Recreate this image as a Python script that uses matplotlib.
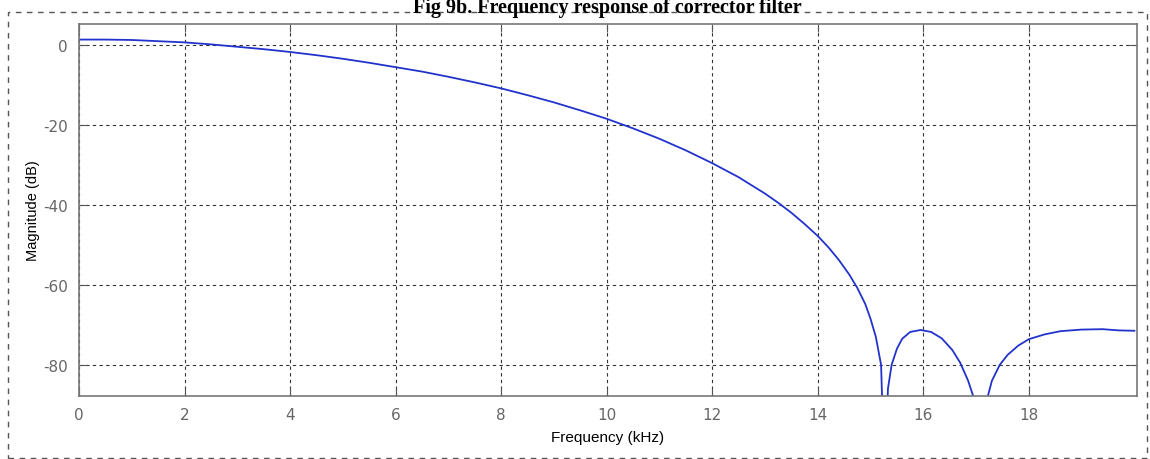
import numpy as np
import matplotlib.pyplot as plt
from matplotlib.patches import Rectangle

plt.rcParams['axes.unicode_minus'] = False

# frecuencia (kHz) y magnitud (dB)
freq_khz = [0.0, 0.5, 1.0, 1.5, 2.0, 2.5, 3.0, 3.5, 4.0, 4.5, 5.0, 5.5, 6.0,
            6.5, 7.0, 7.5, 8.0, 8.5, 9.0, 9.5, 10.0, 10.5, 11.0, 11.5, 12.0,
            12.5, 13.0, 13.25, 13.5, 13.75, 14.0, 14.2, 14.4, 14.6, 14.75, 14.9,
            15.0, 15.1, 15.2, 15.27,
            15.33, 15.4, 15.5, 15.6, 15.75, 15.95, 16.15, 16.35, 16.55, 16.7,
            16.85, 16.95, 17.08, 17.22, 17.3, 17.45, 17.6, 17.8, 18.0, 18.3,
            18.6, 19.0, 19.4, 19.7, 20.0]
mag_db = [1.3, 1.3, 1.2, 0.9, 0.6, 0.1, -0.5, -1.1, -1.8, -2.6, -3.5, -4.5, -5.6,
          -6.7, -8.0, -9.4, -10.9, -12.6, -14.4, -16.4, -18.5, -20.9, -23.5, -26.4, -29.6,
          -33.1, -37.2, -39.5, -42.0, -44.8, -47.8, -50.6, -53.8, -57.5, -60.8, -64.8,
          -68.5, -73.0, -80.0, -110.0,
          -86.0, -80.0, -76.0, -73.5, -71.8, -71.3, -71.8, -73.4, -76.3, -79.5,
          -84.0, -88.0, -110.0, -88.0, -84.0, -80.0, -77.5, -75.2, -73.6, -72.4,
          -71.6, -71.2, -71.1, -71.4, -71.5]

x_ticks = [0, 2, 4, 6, 8, 10, 12, 14, 16, 18]
y_ticks = [0, -20, -40, -60, -80]

fig = plt.figure(figsize=(11.5, 4.6), dpi=100)
ax = fig.add_axes([0.0687, 0.137, 0.92, 0.8087])

ax.plot(freq_khz, mag_db, color='#2233cc', linewidth=1.3)

ax.set_xlim(0, 20.05)
ax.set_ylim(-87.8, 5.2)
ax.set_xticks(x_ticks)
ax.set_yticks(y_ticks)
ax.grid(True, color='#333333', linestyle=(0, (3, 3)), linewidth=0.8)
ax.tick_params(direction='in', length=6, color='#555555', labelcolor='#666666',
               labelsize=11, top=True, right=True, pad=8)
for t in ax.get_xticklabels() + ax.get_yticklabels():
    t.set_family('Liberation Sans Narrow')
for s in ax.spines.values():
    s.set_color('#777777')
    s.set_linewidth(1.2)

ax.set_xlabel('Frequency (kHz)', fontsize=11, family='Liberation Sans', labelpad=6)
ax.set_ylabel('Magnitude (dB)', fontsize=10.5, family='Liberation Sans', labelpad=10)
ax.yaxis.set_label_coords(-0.037, 0.5)

# titulo arriba
fig.text(0.528, 1 - 13 / 460, 'Fig 9b. Frequency response of corrector filter',
         ha='center', va='baseline', fontsize=14.5, fontweight='bold',
         family='Liberation Serif')

# marco punteado
fig.patches.append(Rectangle((8 / 1150, 1 / 460), 1139 / 1150, 446 / 460,
                             transform=fig.transFigure, fill=False,
                             edgecolor='#555555', linestyle=(0, (4, 4)),
                             linewidth=1.0))

fig.savefig('out.png', dpi=100)
